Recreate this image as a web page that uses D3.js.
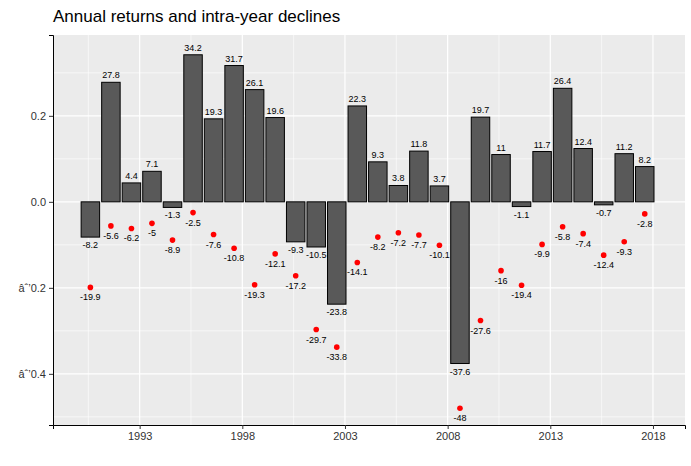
<!DOCTYPE html><html><head><script src="https://cdn.jsdelivr.net/npm/d3@7"></script>
<style>body{margin:0;background:#fff}text{font-family:"Liberation Sans",Arial,sans-serif}</style></head><body>
<svg id="c" width="691" height="466"></svg>
<script>
const years=d3.range(1990,2018);
const returns=[-8.2,27.8,4.4,7.1,-1.3,34.2,19.3,31.7,26.1,19.6,-9.3,-10.5,-23.8,22.3,9.3,3.8,11.8,3.7,-37.6,19.7,11,-1.1,11.7,26.4,12.4,-0.7,11.2,8.2];
const declines=[-19.9,-5.6,-6.2,-5,-8.9,-2.5,-7.6,-10.8,-19.3,-12.1,-17.2,-29.7,-33.8,-14.1,-8.2,-7.2,-7.7,-10.1,-48,-27.6,-16,-19.4,-9.9,-5.8,-7.4,-12.4,-9.3,-2.8];
const xTicks=[1993,1998,2003,2008,2013,2018];
const yTicks=[-0.4,-0.2,0,0.2];
const svg=d3.select("#c");
const L=53,R=685,T=35,B=425;
const x=d3.scaleLinear().domain([1988.78,2019.56]).range([L,R]);
const y=d3.scaleLinear().domain([-0.519,0.388]).range([B,T]);
svg.append("rect").attr("x",L).attr("y",T).attr("width",R-L).attr("height",B-T).attr("fill","#EBEBEB");
const g=svg.append("g");
[-0.5,-0.3,-0.1,0.1,0.3].forEach(v=>g.append("line").attr("x1",L).attr("x2",R).attr("y1",y(v)).attr("y2",y(v)).attr("stroke","#fff").attr("stroke-width",0.6));
[1990.5,1995.5,2000.5,2005.5,2010.5,2015.5].forEach(v=>g.append("line").attr("y1",T).attr("y2",B).attr("x1",x(v)).attr("x2",x(v)).attr("stroke","#fff").attr("stroke-width",0.6));
yTicks.forEach(v=>g.append("line").attr("x1",L).attr("x2",R).attr("y1",y(v)).attr("y2",y(v)).attr("stroke","#fff").attr("stroke-width",1.2));
xTicks.forEach(v=>g.append("line").attr("y1",T).attr("y2",B).attr("x1",x(v)).attr("x2",x(v)).attr("stroke","#fff").attr("stroke-width",1.2));
const bw=x(1990.9)-x(1990);
const cx=yr=>x(yr+0.6);
svg.selectAll(".bar").data(returns).join("rect").attr("x",(d,i)=>cx(years[i])-bw/2).attr("width",bw)
 .attr("y",d=>y(Math.max(0,d/100))).attr("height",d=>Math.abs(y(d/100)-y(0))).attr("fill","#595959").attr("stroke","#000").attr("stroke-width",1);
svg.selectAll(".rl").data(returns).join("text").attr("x",(d,i)=>cx(years[i])).attr("y",d=>d>=0?y(d/100)-4:y(d/100)+11)
 .attr("text-anchor","middle").attr("font-size",9).text(d=>d);
svg.selectAll(".pt").data(declines).join("circle").attr("cx",(d,i)=>cx(years[i])).attr("cy",d=>y(d/100)).attr("r",2.8).attr("fill","#f00");
svg.selectAll(".dl").data(declines).join("text").attr("x",(d,i)=>cx(years[i])).attr("y",d=>y(d/100)+13)
 .attr("text-anchor","middle").attr("font-size",9).text(d=>d);
const xa=svg.append("g").attr("transform",`translate(0,${B})`).call(d3.axisBottom(x).tickValues(xTicks).tickFormat(d3.format("d")).tickSize(4));
const ya=svg.append("g").attr("transform",`translate(${L},0)`).call(d3.axisLeft(y).tickValues(yTicks).tickFormat(d3.format(".1f")).tickSize(4));
[xa,ya].forEach(a=>{a.select(".domain").attr("stroke","#000");a.selectAll("text").attr("font-size",11).attr("fill","#333");a.selectAll("line").attr("stroke","#333");});
svg.append("text").attr("x",L).attr("y",22).attr("font-size",17).text("Annual returns and intra-year declines");
</script></body></html>
